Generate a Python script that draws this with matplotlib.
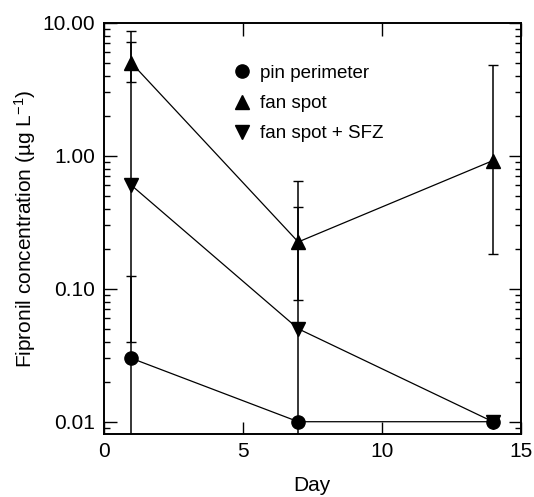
import matplotlib
matplotlib.use("Agg")
import matplotlib.pyplot as plt
import numpy as np
from matplotlib.ticker import FixedLocator, FormatStrFormatter, LogLocator, NullFormatter

plt.rcParams['font.family'] = ['Liberation Sans', 'DejaVu Sans']
plt.rcParams['mathtext.fontset'] = 'custom'
plt.rcParams['mathtext.rm'] = 'Liberation Sans'
plt.rcParams['mathtext.it'] = 'Liberation Sans:italic'

days = [1, 7, 14]

# pin perimeter
pin = [0.03, 0.01, 0.01]
pin_lo = [0.001, 0.01, 0.01]
pin_hi = [0.124, 0.01, 0.01]

# fan spot
fan = [5.0, 0.225, 0.92]
fan_lo = [3.57, 0.083, 0.183]
fan_hi = [8.64, 0.644, 4.83]

# fan spot + SFZ
sfz = [0.6, 0.05, 0.01]
sfz_lo = [0.04, 0.001, 0.01]
sfz_hi = [7.24, 0.41, 0.01]

fig = plt.figure(figsize=(5.34, 4.97), dpi=100)
ax = fig.add_axes([0.194, 0.127, 0.781, 0.827])


def draw(y, lo, hi, marker, label):
    y = np.array(y)
    err = [y - np.array(lo), np.array(hi) - y]
    ax.errorbar(days, y, yerr=err, fmt='none', ecolor='black',
                elinewidth=1.1, capsize=3.5, capthick=1.0, zorder=2)
    ax.plot(days, y, color='black', lw=0.9, marker=marker, ms=9.5,
            mfc='black', mec='black', label=label, zorder=3)


draw(pin, pin_lo, pin_hi, 'o', 'pin perimeter')
draw(fan, fan_lo, fan_hi, '^', 'fan spot')
draw(sfz, sfz_lo, sfz_hi, 'v', 'fan spot + SFZ')

ax.set_yscale('log')
ax.set_xlim(0, 15)
ax.set_ylim(0.0081, 10)

ax.xaxis.set_major_locator(FixedLocator([0, 5, 10, 15]))
ax.yaxis.set_major_locator(FixedLocator([0.01, 0.1, 1, 10]))
ax.yaxis.set_major_formatter(FormatStrFormatter('%.2f'))
ax.yaxis.set_minor_locator(LogLocator(base=10, subs=np.arange(2, 10)))
ax.yaxis.set_minor_formatter(NullFormatter())

ax.tick_params(which='both', direction='in', top=True, right=True, width=1.0)
ax.tick_params(which='major', length=9, labelsize=15, pad=6)
ax.tick_params(which='minor', length=4.5)
for s in ax.spines.values():
    s.set_linewidth(1.4)

ax.set_xlabel('Day', fontsize=15, labelpad=11)
ax.set_ylabel('Fipronil concentration (µg L$^{-1}$)', fontsize=15, labelpad=3)

leg = ax.legend(frameon=False, loc='upper left', bbox_to_anchor=(0.331, 0.898),
                fontsize=13.5, handlelength=0, handletextpad=1.0,
                labelspacing=0.7, borderpad=0, borderaxespad=0)
for lh in leg.legend_handles:
    lh.set_linestyle('none')

fig.savefig('out.png', dpi=100)
